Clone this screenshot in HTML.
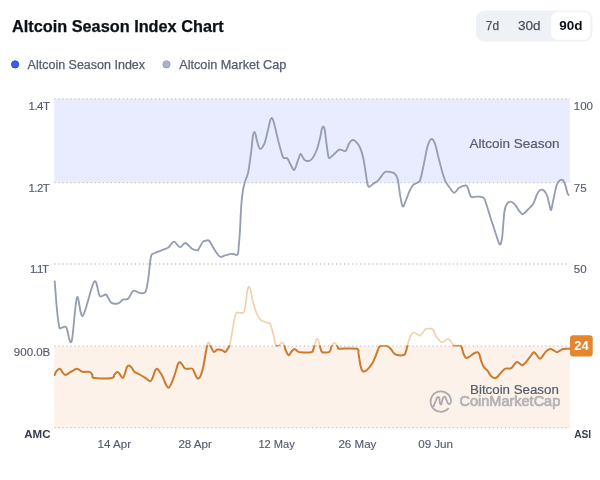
<!DOCTYPE html>
<html><head><meta charset="utf-8"><style>
html,body{margin:0;padding:0;background:#fff;width:600px;height:480px;overflow:hidden}
svg{display:block;will-change:transform}
text{font-family:"Liberation Sans",sans-serif}
</style></head><body>
<svg width="600" height="480" viewBox="0 0 600 480">
<defs>
<clipPath id="above"><rect x="0" y="0" width="600" height="345.3"/></clipPath>
<clipPath id="below"><rect x="0" y="345.3" width="600" height="200"/></clipPath>
</defs>
<rect width="600" height="480" fill="#fff"/>
<!-- title -->
<text x="12" y="31.7" font-size="16.3" font-weight="bold" fill="#0c1017" stroke="#0c1017" stroke-width="0.25">Altcoin Season Index Chart</text>
<!-- toggle -->
<rect x="475.9" y="10.5" width="116.5" height="31" rx="8.5" fill="#eef1f5"/>
<rect x="551.3" y="11.8" width="39" height="28" rx="6.5" fill="#fff"/>
<text x="485.8" y="30.2" font-size="13.5" fill="#4b5162" stroke="#4b5162" stroke-width="0.25" textLength="13.2" lengthAdjust="spacingAndGlyphs">7d</text>
<text x="517.9" y="30.2" font-size="13.5" fill="#4b5162" stroke="#4b5162" stroke-width="0.25" textLength="22.6" lengthAdjust="spacingAndGlyphs">30d</text>
<text x="559.2" y="30.4" font-size="13.5" font-weight="bold" fill="#0c1017">90d</text>
<!-- legend -->
<circle cx="15.1" cy="64.4" r="3.6" fill="#3d5cf7" stroke="#2d40d8" stroke-width="0.9"/>
<text x="27.6" y="68.5" font-size="12.5" stroke="#545c6d" stroke-width="0.25" fill="#545c6d">Altcoin Season Index</text>
<circle cx="166.5" cy="64.4" r="3.6" fill="#abb4c7" stroke="#959cb0" stroke-width="0.9"/>
<text x="179.2" y="68.5" font-size="12.7" stroke="#545c6d" stroke-width="0.25" fill="#545c6d">Altcoin Market Cap</text>
<!-- regions -->
<rect x="54.3" y="98.8" width="515.4000000000001" height="83.8" fill="#e9ecfe"/>
<rect x="54.3" y="346.2" width="515.4000000000001" height="81.40000000000003" fill="#fdf2e9"/>
<!-- grid -->
<g stroke="#c3c6cc" stroke-width="1.3" stroke-dasharray="1.3 2.723" stroke-dashoffset="-0.05">
<line x1="54.3" x2="569.7" y1="98.8" y2="98.8"/>
<line x1="54.3" x2="569.7" y1="182.6" y2="182.6"/>
<line x1="54.3" x2="569.7" y1="264.0" y2="264.0"/>
<line x1="54.3" x2="569.7" y1="346.2" y2="346.2"/>
<line x1="54.3" x2="569.7" y1="427.6" y2="427.6"/>
</g>
<!-- region labels -->
<text x="559.5" y="148" font-size="13.5" fill="#545c6d" stroke="#545c6d" stroke-width="0.2" text-anchor="end">Altcoin Season</text>
<text x="558.8" y="393.8" font-size="13.3" fill="#545c6d" stroke="#545c6d" stroke-width="0.2" text-anchor="end">Bitcoin Season</text>
<!-- watermark -->
<g fill="none" stroke="#ababb0" stroke-width="1.8" stroke-linecap="round" stroke-linejoin="round">
<path d="M448.2,408.6 A10.2,10.2 0 1 1 451,401.8 C450.6,404.6 448.2,405.2 447.2,401.5 L445.6,397.6 C444.6,396 443.2,396.8 442.6,399 L441.3,404.2 C440.6,405.2 439.9,404 439.7,401.5 L439.3,398 C438.7,396.2 437.4,396.6 436.5,398.8 L433.6,406.2"/>
</g>
<text x="459.6" y="406.2" font-size="14" fill="#b2b2b6" stroke="#b2b2b6" stroke-width="0.7" stroke-linejoin="round" textLength="100.6" lengthAdjust="spacingAndGlyphs">CoinMarketCap</text>
<!-- axis labels left -->
<g font-size="11.5" fill="#545c6d" stroke="#545c6d" stroke-width="0.15" text-anchor="end">
<text x="49.5" y="110" letter-spacing="-0.5">1.4T</text>
<text x="49.4" y="191.8" letter-spacing="-0.5">1.2T</text>
<text x="47.8" y="273.4" letter-spacing="-1.3">1.1T</text>
<text x="50.3" y="356.2">900.0B</text>
</g>
<text x="50.5" y="438" font-size="11.5" font-weight="bold" fill="#353c4c" text-anchor="end">AMC</text>
<g font-size="11.5" fill="#545c6d" stroke="#545c6d" stroke-width="0.15">
<text x="573.8" y="110">100</text>
<text x="573.8" y="191.8">75</text>
<text x="573.8" y="273.4">50</text>
</g>
<text x="574.2" y="437.8" font-size="11.5" font-weight="bold" fill="#353c4c" textLength="17" lengthAdjust="spacingAndGlyphs">ASI</text>
<!-- x labels -->
<g font-size="11.6" fill="#545c6d" stroke="#545c6d" stroke-width="0.15">
<text x="97.6" y="447.6">14 Apr</text>
<text x="178.4" y="447.6">28 Apr</text>
<text x="258.4" y="447.6" textLength="36.4" lengthAdjust="spacingAndGlyphs">12 May</text>
<text x="338.4" y="447.6">26 May</text>
<text x="418.2" y="447.6">09 Jun</text>
</g>
<!-- lines -->
<path d="M54.70,281.30 C55.08,286.08 56.25,302.43 57.00,310.00 C57.75,317.57 58.57,323.70 59.20,326.70 C59.83,329.70 59.83,328.00 60.80,328.00 C61.77,328.00 64.02,326.65 65.00,326.70 C65.98,326.75 65.60,325.87 66.70,328.30 C67.80,330.73 69.88,346.43 71.60,341.30 C73.32,336.17 75.13,301.75 77.00,297.50 C78.87,293.25 79.93,318.43 82.80,315.80 C85.67,313.17 91.38,285.03 94.20,281.70 C97.02,278.37 97.77,293.67 99.70,295.80 C101.63,297.93 104.37,294.13 105.80,294.50 C107.23,294.87 107.35,296.60 108.30,298.00 C109.25,299.40 109.83,302.02 111.50,302.90 C113.17,303.78 116.40,303.85 118.30,303.30 C120.20,302.75 121.27,300.36 122.90,299.60 C124.53,298.84 126.37,300.22 128.10,298.75 C129.83,297.28 131.38,291.78 133.30,290.80 C135.22,289.82 137.58,292.72 139.60,292.90 C141.62,293.08 143.95,294.33 145.40,291.90 C146.85,289.47 147.37,284.20 148.30,278.30 C149.23,272.40 149.95,260.67 151.00,256.50 C152.05,252.33 153.03,254.25 154.60,253.30 C156.17,252.35 158.38,251.63 160.40,250.80 C162.42,249.97 165.22,248.98 166.70,248.30 C168.18,247.62 168.08,247.80 169.30,246.70 C170.52,245.60 172.22,241.60 174.00,241.70 C175.78,241.80 178.12,247.08 180.00,247.30 C181.88,247.52 183.30,242.77 185.30,243.00 C187.30,243.23 190.00,247.47 192.00,248.70 C194.00,249.93 196.18,250.35 197.30,250.40 C198.42,250.45 197.80,250.40 198.70,249.00 C199.60,247.60 201.48,243.38 202.70,242.00 C203.92,240.62 204.90,240.87 206.00,240.70 C207.10,240.53 207.85,239.45 209.30,241.00 C210.75,242.55 212.92,247.38 214.70,250.00 C216.48,252.62 218.23,255.82 220.00,256.70 C221.77,257.58 223.35,255.78 225.30,255.30 C227.25,254.82 229.67,253.90 231.70,253.80 C233.73,253.70 236.33,255.88 237.50,254.70 C238.67,253.52 238.28,250.82 238.70,246.70 C239.12,242.58 239.57,236.95 240.00,230.00 C240.43,223.05 240.80,211.67 241.30,205.00 C241.80,198.33 242.33,194.03 243.00,190.00 C243.67,185.97 244.42,183.85 245.30,180.80 C246.18,177.75 247.32,176.55 248.30,171.70 C249.28,166.85 250.43,157.65 251.20,151.70 C251.97,145.75 252.40,139.28 252.90,136.00 C253.40,132.72 253.75,132.25 254.20,132.00 C254.65,131.75 255.13,133.03 255.60,134.50 C256.07,135.97 256.27,138.42 257.00,140.80 C257.73,143.18 258.75,148.38 260.00,148.80 C261.25,149.22 263.20,146.30 264.50,143.30 C265.80,140.30 266.85,134.60 267.80,130.80 C268.75,127.00 269.58,122.63 270.20,120.50 C270.82,118.37 271.05,118.17 271.50,118.00 C271.95,117.83 272.40,118.33 272.90,119.50 C273.40,120.67 273.53,121.17 274.50,125.00 C275.47,128.83 277.32,137.22 278.70,142.50 C280.08,147.78 281.75,154.12 282.80,156.70 C283.85,159.28 284.22,157.67 285.00,158.00 C285.78,158.33 286.53,157.53 287.50,158.70 C288.47,159.87 289.68,163.12 290.80,165.00 C291.92,166.88 293.08,170.55 294.20,170.00 C295.32,169.45 296.48,164.33 297.50,161.70 C298.52,159.07 299.47,155.03 300.30,154.20 C301.13,153.37 301.72,155.68 302.50,156.70 C303.28,157.72 303.88,159.62 305.00,160.30 C306.12,160.98 307.95,161.13 309.20,160.80 C310.45,160.47 311.25,160.10 312.50,158.30 C313.75,156.50 315.45,153.33 316.70,150.00 C317.95,146.67 319.15,141.80 320.00,138.30 C320.85,134.80 321.30,130.97 321.80,129.00 C322.30,127.03 322.60,126.67 323.00,126.50 C323.40,126.33 323.87,127.13 324.20,128.00 C324.53,128.87 324.58,128.87 325.00,131.70 C325.42,134.53 326.08,140.70 326.70,145.00 C327.32,149.30 327.87,155.62 328.70,157.50 C329.53,159.38 330.65,157.00 331.70,156.30 C332.75,155.60 333.75,154.40 335.00,153.30 C336.25,152.20 337.95,150.20 339.20,149.70 C340.45,149.20 341.40,150.12 342.50,150.30 C343.60,150.48 344.68,151.97 345.80,150.80 C346.92,149.63 348.08,145.10 349.20,143.30 C350.32,141.50 351.40,140.27 352.50,140.00 C353.60,139.73 354.55,140.45 355.80,141.70 C357.05,142.95 358.75,144.73 360.00,147.50 C361.25,150.27 362.33,154.00 363.30,158.30 C364.27,162.60 364.97,168.63 365.80,173.30 C366.63,177.97 367.05,184.57 368.30,186.30 C369.55,188.03 371.63,184.70 373.30,183.70 C374.97,182.70 376.90,181.62 378.30,180.30 C379.70,178.98 380.58,177.18 381.70,175.80 C382.82,174.42 383.62,172.63 385.00,172.00 C386.38,171.37 388.47,171.78 390.00,172.00 C391.53,172.22 392.95,172.22 394.20,173.30 C395.45,174.38 396.48,174.67 397.50,178.50 C398.52,182.33 399.42,191.62 400.30,196.30 C401.18,200.98 401.85,205.98 402.80,206.60 C403.75,207.22 404.85,202.65 406.00,200.00 C407.15,197.35 408.45,193.25 409.70,190.70 C410.95,188.15 412.10,186.12 413.50,184.70 C414.90,183.28 416.95,183.08 418.10,182.20 C419.25,181.32 419.45,182.37 420.40,179.40 C421.35,176.43 422.62,169.87 423.80,164.40 C424.98,158.93 426.25,150.82 427.50,146.60 C428.75,142.38 430.05,139.57 431.30,139.10 C432.55,138.63 433.75,140.52 435.00,143.80 C436.25,147.08 437.55,153.97 438.80,158.80 C440.05,163.63 441.37,169.00 442.50,172.80 C443.63,176.60 444.45,179.20 445.60,181.60 C446.75,184.00 447.98,185.33 449.40,187.20 C450.82,189.07 452.53,192.65 454.10,192.80 C455.67,192.95 457.23,189.25 458.80,188.10 C460.37,186.95 462.10,186.20 463.50,185.90 C464.90,185.60 465.95,184.52 467.20,186.30 C468.45,188.08 469.43,194.88 471.00,196.60 C472.57,198.32 474.57,196.45 476.60,196.60 C478.63,196.75 481.63,196.40 483.20,197.50 C484.77,198.60 484.75,199.75 486.00,203.20 C487.25,206.65 489.15,213.37 490.70,218.20 C492.25,223.03 493.80,227.83 495.30,232.20 C496.80,236.57 498.60,243.30 499.70,244.40 C500.80,245.50 501.35,241.53 501.90,238.80 C502.45,236.07 502.57,232.63 503.00,228.00 C503.43,223.37 503.88,214.97 504.50,211.00 C505.12,207.03 505.65,205.75 506.70,204.20 C507.75,202.65 509.42,201.62 510.80,201.70 C512.18,201.78 513.60,203.18 515.00,204.70 C516.40,206.22 517.87,209.22 519.20,210.80 C520.53,212.38 521.62,214.33 523.00,214.20 C524.38,214.07 525.78,211.75 527.50,210.00 C529.22,208.25 531.77,206.20 533.30,203.70 C534.83,201.20 535.58,197.28 536.70,195.00 C537.82,192.72 538.75,190.70 540.00,190.00 C541.25,189.30 542.95,189.68 544.20,190.80 C545.45,191.92 546.53,193.92 547.50,196.70 C548.47,199.48 549.37,205.33 550.00,207.50 C550.63,209.67 550.75,210.95 551.30,209.70 C551.85,208.45 552.40,204.12 553.30,200.00 C554.20,195.88 555.58,188.28 556.70,185.00 C557.82,181.72 558.95,181.08 560.00,180.30 C561.05,179.52 562.12,179.52 563.00,180.30 C563.88,181.08 564.55,182.83 565.30,185.00 C566.05,187.17 566.93,191.63 567.50,193.30 C568.07,194.97 568.50,194.72 568.70,195.00" fill="none" stroke="#959db1" stroke-width="1.85" stroke-linejoin="round" stroke-linecap="round"/>
<path d="M54.70,375.00 C54.96,374.40 55.38,372.44 56.25,371.40 C57.12,370.36 58.77,368.50 59.90,368.75 C61.02,369.00 62.05,371.86 63.00,372.90 C63.95,373.94 64.30,375.17 65.60,375.00 C66.90,374.83 68.88,372.94 70.80,371.90 C72.72,370.86 75.36,368.83 77.10,368.75 C78.84,368.67 80.03,370.88 81.25,371.40 C82.47,371.92 83.01,371.82 84.40,371.90 C85.79,371.98 88.30,371.47 89.60,371.90 C90.90,372.33 91.42,373.47 92.20,374.50 C92.98,375.53 91.03,377.53 94.30,378.10 C97.57,378.67 108.45,378.50 111.80,377.90 C115.15,377.30 113.48,375.50 114.40,374.50 C115.32,373.50 116.43,371.98 117.30,371.90 C118.17,371.82 118.70,372.97 119.60,374.00 C120.50,375.03 121.83,378.10 122.70,378.10 C123.57,378.10 124.10,375.82 124.80,374.00 C125.50,372.18 126.20,368.63 126.90,367.20 C127.60,365.77 128.22,365.32 129.00,365.40 C129.78,365.48 130.65,366.62 131.60,367.70 C132.55,368.78 133.23,370.68 134.70,371.90 C136.17,373.12 138.58,373.97 140.40,375.00 C142.22,376.03 143.95,377.06 145.60,378.10 C147.25,379.14 149.08,381.42 150.30,381.25 C151.52,381.08 152.12,378.84 152.90,377.10 C153.68,375.36 154.30,372.19 155.00,370.80 C155.70,369.41 156.32,368.57 157.10,368.75 C157.88,368.93 158.80,370.65 159.70,371.90 C160.60,373.15 161.52,374.27 162.50,376.25 C163.48,378.23 164.60,381.83 165.60,383.75 C166.60,385.67 167.56,387.75 168.50,387.75 C169.44,387.75 170.17,386.08 171.25,383.75 C172.33,381.42 173.86,377.08 175.00,373.75 C176.14,370.42 177.27,365.67 178.10,363.75 C178.93,361.83 179.27,362.04 180.00,362.25 C180.73,362.46 181.67,363.96 182.50,365.00 C183.33,366.04 184.07,367.88 185.00,368.50 C185.93,369.12 186.85,368.71 188.10,368.75 C189.35,368.79 191.45,368.12 192.50,368.75 C193.55,369.38 193.61,370.94 194.40,372.50 C195.19,374.06 196.32,377.37 197.25,378.10 C198.18,378.83 199.03,378.67 200.00,376.90 C200.97,375.13 202.17,371.36 203.10,367.50 C204.03,363.64 204.91,357.50 205.60,353.75 C206.29,350.00 206.72,346.88 207.25,345.00 C207.78,343.12 208.19,342.29 208.75,342.50 C209.31,342.71 209.77,344.68 210.60,346.25 C211.43,347.82 212.60,351.36 213.75,351.90 C214.90,352.44 216.18,349.82 217.50,349.50 C218.82,349.18 220.40,349.58 221.70,350.00 C223.00,350.42 224.25,352.28 225.30,352.00 C226.35,351.72 227.27,349.47 228.00,348.30 C228.73,347.13 229.08,347.22 229.70,345.00 C230.32,342.78 230.95,339.17 231.70,335.00 C232.45,330.83 233.43,323.67 234.20,320.00 C234.97,316.33 235.47,314.20 236.30,313.00 C237.13,311.80 238.03,312.87 239.20,312.80 C240.37,312.73 242.33,313.35 243.30,312.60 C244.27,311.85 244.43,311.23 245.00,308.30 C245.57,305.37 246.25,298.22 246.70,295.00 C247.15,291.78 247.35,290.40 247.70,289.00 C248.05,287.60 248.43,286.77 248.80,286.60 C249.17,286.43 249.57,287.27 249.90,288.00 C250.23,288.73 250.23,288.45 250.80,291.00 C251.37,293.55 252.32,299.58 253.30,303.30 C254.28,307.02 255.58,310.65 256.70,313.30 C257.82,315.95 258.90,317.87 260.00,319.20 C261.10,320.53 261.92,320.67 263.30,321.30 C264.68,321.93 267.10,322.47 268.30,323.00 C269.50,323.53 269.59,322.29 270.50,324.50 C271.41,326.71 272.90,332.93 273.75,336.25 C274.60,339.57 274.98,342.84 275.60,344.40 C276.23,345.96 276.87,345.50 277.50,345.60 C278.13,345.70 278.67,345.52 279.40,345.00 C280.13,344.48 281.13,342.60 281.90,342.50 C282.67,342.40 283.38,343.15 284.00,344.40 C284.62,345.65 284.85,348.19 285.60,350.00 C286.35,351.81 287.56,354.93 288.50,355.25 C289.44,355.57 290.27,352.94 291.25,351.90 C292.23,350.86 293.36,349.11 294.40,349.00 C295.44,348.89 296.57,350.71 297.50,351.25 C298.43,351.79 297.71,352.08 300.00,352.25 C302.29,352.42 309.07,352.62 311.25,352.25 C313.43,351.88 312.48,351.42 313.10,350.00 C313.73,348.58 314.37,345.62 315.00,343.75 C315.63,341.88 316.27,339.06 316.90,338.75 C317.52,338.44 318.13,340.23 318.75,341.90 C319.37,343.57 319.98,347.02 320.60,348.75 C321.23,350.48 321.03,351.73 322.50,352.25 C323.97,352.77 327.94,352.79 329.40,351.90 C330.86,351.01 330.69,348.15 331.25,346.90 C331.81,345.65 332.23,345.13 332.75,344.40 C333.27,343.67 333.82,342.50 334.40,342.50 C334.98,342.50 335.63,343.57 336.25,344.40 C336.87,345.23 337.48,346.77 338.10,347.50 C338.73,348.23 336.87,348.54 340.00,348.75 C343.13,348.96 353.82,347.92 356.90,348.75 C359.98,349.58 357.88,350.83 358.50,353.75 C359.12,356.67 359.93,363.38 360.60,366.25 C361.27,369.12 361.77,370.17 362.50,371.00 C363.23,371.83 363.96,371.73 365.00,371.25 C366.04,370.77 367.50,369.46 368.75,368.10 C370.00,366.74 371.36,365.08 372.50,363.10 C373.64,361.12 374.67,358.53 375.60,356.25 C376.53,353.97 377.37,351.07 378.10,349.40 C378.83,347.73 378.85,346.88 380.00,346.25 C381.15,345.62 383.75,345.60 385.00,345.60 C386.25,345.60 386.57,345.73 387.50,346.25 C388.43,346.77 389.56,347.61 390.60,348.75 C391.64,349.89 392.70,352.06 393.75,353.10 C394.80,354.14 395.23,354.68 396.90,355.00 C398.57,355.32 402.30,355.42 403.75,355.00 C405.20,354.58 405.02,353.96 405.60,352.50 C406.18,351.04 406.62,348.54 407.25,346.25 C407.88,343.96 408.62,340.83 409.40,338.75 C410.17,336.67 411.07,334.79 411.90,333.75 C412.73,332.71 413.47,332.39 414.40,332.50 C415.33,332.61 416.57,333.88 417.50,334.40 C418.43,334.92 419.17,335.82 420.00,335.60 C420.83,335.38 421.73,334.03 422.50,333.10 C423.27,332.17 424.02,330.70 424.60,330.00 C425.18,329.30 425.35,329.13 426.00,328.90 C426.65,328.67 427.67,328.65 428.50,328.60 C429.33,328.55 430.33,328.48 431.00,328.60 C431.67,328.72 432.02,328.90 432.50,329.30 C432.98,329.70 433.23,329.72 433.90,331.00 C434.57,332.28 435.17,335.12 436.50,337.00 C437.83,338.88 440.07,341.96 441.90,342.25 C443.73,342.54 446.05,338.92 447.50,338.75 C448.95,338.58 449.67,340.21 450.60,341.25 C451.53,342.29 452.27,344.27 453.10,345.00 C453.93,345.73 454.35,345.50 455.60,345.60 C456.85,345.70 459.55,345.18 460.60,345.60 C461.65,346.02 461.38,346.63 461.90,348.10 C462.42,349.57 463.02,352.73 463.75,354.40 C464.48,356.07 465.21,357.79 466.25,358.10 C467.29,358.41 468.75,357.02 470.00,356.25 C471.25,355.48 472.50,354.17 473.75,353.50 C475.00,352.83 476.56,352.10 477.50,352.25 C478.44,352.40 478.77,352.90 479.40,354.40 C480.02,355.90 480.52,359.17 481.25,361.25 C481.98,363.33 482.71,365.34 483.75,366.90 C484.79,368.46 486.36,369.15 487.50,370.60 C488.64,372.05 489.45,374.35 490.60,375.60 C491.75,376.85 493.25,377.88 494.40,378.10 C495.55,378.32 496.47,377.73 497.50,376.90 C498.53,376.07 499.35,374.46 500.60,373.10 C501.85,371.74 503.75,369.52 505.00,368.75 C506.25,367.98 507.06,368.61 508.10,368.50 C509.14,368.39 510.20,368.78 511.25,368.10 C512.30,367.42 513.46,365.43 514.40,364.40 C515.34,363.37 515.97,362.01 516.90,361.90 C517.83,361.79 519.07,363.19 520.00,363.75 C520.93,364.31 521.46,365.56 522.50,365.25 C523.54,364.94 525.00,363.29 526.25,361.90 C527.50,360.51 528.75,358.51 530.00,356.90 C531.25,355.29 532.71,352.67 533.75,352.25 C534.79,351.83 535.26,353.34 536.25,354.40 C537.24,355.46 538.66,358.29 539.70,358.60 C540.74,358.91 541.52,357.37 542.50,356.25 C543.48,355.13 544.35,353.11 545.60,351.90 C546.85,350.69 548.75,349.32 550.00,349.00 C551.25,348.68 551.95,349.46 553.10,350.00 C554.25,350.54 555.75,352.15 556.90,352.25 C558.05,352.35 558.97,351.14 560.00,350.60 C561.03,350.06 561.53,349.31 563.10,349.00 C564.67,348.69 567.92,348.79 569.40,348.75 C570.88,348.71 571.57,348.75 572.00,348.75" fill="none" stroke="#f0d2ae" stroke-width="1.7" stroke-linejoin="round" stroke-linecap="round" clip-path="url(#above)"/>
<path d="M54.70,375.00 C54.96,374.40 55.38,372.44 56.25,371.40 C57.12,370.36 58.77,368.50 59.90,368.75 C61.02,369.00 62.05,371.86 63.00,372.90 C63.95,373.94 64.30,375.17 65.60,375.00 C66.90,374.83 68.88,372.94 70.80,371.90 C72.72,370.86 75.36,368.83 77.10,368.75 C78.84,368.67 80.03,370.88 81.25,371.40 C82.47,371.92 83.01,371.82 84.40,371.90 C85.79,371.98 88.30,371.47 89.60,371.90 C90.90,372.33 91.42,373.47 92.20,374.50 C92.98,375.53 91.03,377.53 94.30,378.10 C97.57,378.67 108.45,378.50 111.80,377.90 C115.15,377.30 113.48,375.50 114.40,374.50 C115.32,373.50 116.43,371.98 117.30,371.90 C118.17,371.82 118.70,372.97 119.60,374.00 C120.50,375.03 121.83,378.10 122.70,378.10 C123.57,378.10 124.10,375.82 124.80,374.00 C125.50,372.18 126.20,368.63 126.90,367.20 C127.60,365.77 128.22,365.32 129.00,365.40 C129.78,365.48 130.65,366.62 131.60,367.70 C132.55,368.78 133.23,370.68 134.70,371.90 C136.17,373.12 138.58,373.97 140.40,375.00 C142.22,376.03 143.95,377.06 145.60,378.10 C147.25,379.14 149.08,381.42 150.30,381.25 C151.52,381.08 152.12,378.84 152.90,377.10 C153.68,375.36 154.30,372.19 155.00,370.80 C155.70,369.41 156.32,368.57 157.10,368.75 C157.88,368.93 158.80,370.65 159.70,371.90 C160.60,373.15 161.52,374.27 162.50,376.25 C163.48,378.23 164.60,381.83 165.60,383.75 C166.60,385.67 167.56,387.75 168.50,387.75 C169.44,387.75 170.17,386.08 171.25,383.75 C172.33,381.42 173.86,377.08 175.00,373.75 C176.14,370.42 177.27,365.67 178.10,363.75 C178.93,361.83 179.27,362.04 180.00,362.25 C180.73,362.46 181.67,363.96 182.50,365.00 C183.33,366.04 184.07,367.88 185.00,368.50 C185.93,369.12 186.85,368.71 188.10,368.75 C189.35,368.79 191.45,368.12 192.50,368.75 C193.55,369.38 193.61,370.94 194.40,372.50 C195.19,374.06 196.32,377.37 197.25,378.10 C198.18,378.83 199.03,378.67 200.00,376.90 C200.97,375.13 202.17,371.36 203.10,367.50 C204.03,363.64 204.91,357.50 205.60,353.75 C206.29,350.00 206.72,346.88 207.25,345.00 C207.78,343.12 208.19,342.29 208.75,342.50 C209.31,342.71 209.77,344.68 210.60,346.25 C211.43,347.82 212.60,351.36 213.75,351.90 C214.90,352.44 216.18,349.82 217.50,349.50 C218.82,349.18 220.40,349.58 221.70,350.00 C223.00,350.42 224.25,352.28 225.30,352.00 C226.35,351.72 227.27,349.47 228.00,348.30 C228.73,347.13 229.08,347.22 229.70,345.00 C230.32,342.78 230.95,339.17 231.70,335.00 C232.45,330.83 233.43,323.67 234.20,320.00 C234.97,316.33 235.47,314.20 236.30,313.00 C237.13,311.80 238.03,312.87 239.20,312.80 C240.37,312.73 242.33,313.35 243.30,312.60 C244.27,311.85 244.43,311.23 245.00,308.30 C245.57,305.37 246.25,298.22 246.70,295.00 C247.15,291.78 247.35,290.40 247.70,289.00 C248.05,287.60 248.43,286.77 248.80,286.60 C249.17,286.43 249.57,287.27 249.90,288.00 C250.23,288.73 250.23,288.45 250.80,291.00 C251.37,293.55 252.32,299.58 253.30,303.30 C254.28,307.02 255.58,310.65 256.70,313.30 C257.82,315.95 258.90,317.87 260.00,319.20 C261.10,320.53 261.92,320.67 263.30,321.30 C264.68,321.93 267.10,322.47 268.30,323.00 C269.50,323.53 269.59,322.29 270.50,324.50 C271.41,326.71 272.90,332.93 273.75,336.25 C274.60,339.57 274.98,342.84 275.60,344.40 C276.23,345.96 276.87,345.50 277.50,345.60 C278.13,345.70 278.67,345.52 279.40,345.00 C280.13,344.48 281.13,342.60 281.90,342.50 C282.67,342.40 283.38,343.15 284.00,344.40 C284.62,345.65 284.85,348.19 285.60,350.00 C286.35,351.81 287.56,354.93 288.50,355.25 C289.44,355.57 290.27,352.94 291.25,351.90 C292.23,350.86 293.36,349.11 294.40,349.00 C295.44,348.89 296.57,350.71 297.50,351.25 C298.43,351.79 297.71,352.08 300.00,352.25 C302.29,352.42 309.07,352.62 311.25,352.25 C313.43,351.88 312.48,351.42 313.10,350.00 C313.73,348.58 314.37,345.62 315.00,343.75 C315.63,341.88 316.27,339.06 316.90,338.75 C317.52,338.44 318.13,340.23 318.75,341.90 C319.37,343.57 319.98,347.02 320.60,348.75 C321.23,350.48 321.03,351.73 322.50,352.25 C323.97,352.77 327.94,352.79 329.40,351.90 C330.86,351.01 330.69,348.15 331.25,346.90 C331.81,345.65 332.23,345.13 332.75,344.40 C333.27,343.67 333.82,342.50 334.40,342.50 C334.98,342.50 335.63,343.57 336.25,344.40 C336.87,345.23 337.48,346.77 338.10,347.50 C338.73,348.23 336.87,348.54 340.00,348.75 C343.13,348.96 353.82,347.92 356.90,348.75 C359.98,349.58 357.88,350.83 358.50,353.75 C359.12,356.67 359.93,363.38 360.60,366.25 C361.27,369.12 361.77,370.17 362.50,371.00 C363.23,371.83 363.96,371.73 365.00,371.25 C366.04,370.77 367.50,369.46 368.75,368.10 C370.00,366.74 371.36,365.08 372.50,363.10 C373.64,361.12 374.67,358.53 375.60,356.25 C376.53,353.97 377.37,351.07 378.10,349.40 C378.83,347.73 378.85,346.88 380.00,346.25 C381.15,345.62 383.75,345.60 385.00,345.60 C386.25,345.60 386.57,345.73 387.50,346.25 C388.43,346.77 389.56,347.61 390.60,348.75 C391.64,349.89 392.70,352.06 393.75,353.10 C394.80,354.14 395.23,354.68 396.90,355.00 C398.57,355.32 402.30,355.42 403.75,355.00 C405.20,354.58 405.02,353.96 405.60,352.50 C406.18,351.04 406.62,348.54 407.25,346.25 C407.88,343.96 408.62,340.83 409.40,338.75 C410.17,336.67 411.07,334.79 411.90,333.75 C412.73,332.71 413.47,332.39 414.40,332.50 C415.33,332.61 416.57,333.88 417.50,334.40 C418.43,334.92 419.17,335.82 420.00,335.60 C420.83,335.38 421.73,334.03 422.50,333.10 C423.27,332.17 424.02,330.70 424.60,330.00 C425.18,329.30 425.35,329.13 426.00,328.90 C426.65,328.67 427.67,328.65 428.50,328.60 C429.33,328.55 430.33,328.48 431.00,328.60 C431.67,328.72 432.02,328.90 432.50,329.30 C432.98,329.70 433.23,329.72 433.90,331.00 C434.57,332.28 435.17,335.12 436.50,337.00 C437.83,338.88 440.07,341.96 441.90,342.25 C443.73,342.54 446.05,338.92 447.50,338.75 C448.95,338.58 449.67,340.21 450.60,341.25 C451.53,342.29 452.27,344.27 453.10,345.00 C453.93,345.73 454.35,345.50 455.60,345.60 C456.85,345.70 459.55,345.18 460.60,345.60 C461.65,346.02 461.38,346.63 461.90,348.10 C462.42,349.57 463.02,352.73 463.75,354.40 C464.48,356.07 465.21,357.79 466.25,358.10 C467.29,358.41 468.75,357.02 470.00,356.25 C471.25,355.48 472.50,354.17 473.75,353.50 C475.00,352.83 476.56,352.10 477.50,352.25 C478.44,352.40 478.77,352.90 479.40,354.40 C480.02,355.90 480.52,359.17 481.25,361.25 C481.98,363.33 482.71,365.34 483.75,366.90 C484.79,368.46 486.36,369.15 487.50,370.60 C488.64,372.05 489.45,374.35 490.60,375.60 C491.75,376.85 493.25,377.88 494.40,378.10 C495.55,378.32 496.47,377.73 497.50,376.90 C498.53,376.07 499.35,374.46 500.60,373.10 C501.85,371.74 503.75,369.52 505.00,368.75 C506.25,367.98 507.06,368.61 508.10,368.50 C509.14,368.39 510.20,368.78 511.25,368.10 C512.30,367.42 513.46,365.43 514.40,364.40 C515.34,363.37 515.97,362.01 516.90,361.90 C517.83,361.79 519.07,363.19 520.00,363.75 C520.93,364.31 521.46,365.56 522.50,365.25 C523.54,364.94 525.00,363.29 526.25,361.90 C527.50,360.51 528.75,358.51 530.00,356.90 C531.25,355.29 532.71,352.67 533.75,352.25 C534.79,351.83 535.26,353.34 536.25,354.40 C537.24,355.46 538.66,358.29 539.70,358.60 C540.74,358.91 541.52,357.37 542.50,356.25 C543.48,355.13 544.35,353.11 545.60,351.90 C546.85,350.69 548.75,349.32 550.00,349.00 C551.25,348.68 551.95,349.46 553.10,350.00 C554.25,350.54 555.75,352.15 556.90,352.25 C558.05,352.35 558.97,351.14 560.00,350.60 C561.03,350.06 561.53,349.31 563.10,349.00 C564.67,348.69 567.92,348.79 569.40,348.75 C570.88,348.71 571.57,348.75 572.00,348.75" fill="none" stroke="#cc7a2e" stroke-width="2" stroke-linejoin="round" stroke-linecap="round" clip-path="url(#below)"/>
<!-- badge -->
<rect x="570" y="335.3" width="22.7" height="21.2" rx="3" fill="#e3862f"/>
<text x="581.5" y="350" font-size="13" font-weight="bold" fill="#fff" text-anchor="middle">24</text>
</svg>
</body></html>
